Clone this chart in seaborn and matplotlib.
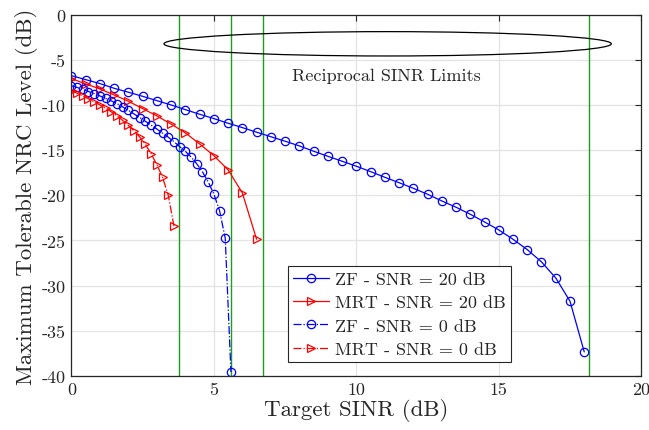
import numpy as np
import pandas as pd
import seaborn as sns
import matplotlib.pyplot as plt
from matplotlib.patches import Ellipse

# === Dados ===
snr_zf_20 = [0, 0.5, 1, 1.5, 2, 2.5, 3, 3.5, 4, 4.5, 5, 5.5, 6, 6.5, 7, 7.5, 8, 8.5, 9,
             9.5, 10, 10.5, 11, 11.5, 12, 12.5, 13, 13.5, 14, 14.5, 15, 15.5, 16, 16.5,
             17, 17.5, 18]
nrc_zf_20 = [-6.73, -7.17, -7.61, -8.13, -8.57, -9.02, -9.5, -9.98, -10.5, -11.01, -11.49,
             -12.01, -12.49, -13.0, -13.5, -14.0, -14.52, -15.11, -15.67, -16.22, -16.77,
             -17.37, -18.0, -18.6, -19.22, -19.88, -20.62, -21.32, -22.1, -22.95, -23.84,
             -24.87, -26.02, -27.38, -29.16, -31.74, -37.36]

snr_mrt_20 = [0, 0.5, 1, 1.5, 2, 2.5, 3, 3.5, 4, 4.5, 5, 5.5, 6, 6.5]
nrc_mrt_20 = [-7.05, -7.65, -8.2, -8.87, -9.57, -10.38, -11.2, -12.1, -13.08, -14.3,
              -15.6, -17.18, -19.73, -24.87]

snr_zf_0 = [0, 0.2, 0.4, 0.6, 0.8, 1.0, 1.2, 1.4, 1.6, 1.8, 2.0, 2.2, 2.4, 2.6, 2.8,
            3.0, 3.2, 3.4, 3.6, 3.8, 4.0, 4.2, 4.4, 4.6, 4.8, 5.0, 5.2, 5.4, 5.6]
nrc_zf_0 = [-7.84, -8.04, -8.26, -8.49, -8.73, -8.98, -9.25, -9.53, -9.83, -10.2, -10.58,
            -10.98, -11.38, -11.8, -12.22, -12.65, -13.1, -13.55, -14.05, -14.6, -15.12,
            -15.75, -16.5, -17.4, -18.5, -19.85, -21.7, -24.75, -39.6]

snr_mrt_0 = [0, 0.2, 0.4, 0.6, 0.8, 1.0, 1.2, 1.4, 1.6, 1.8, 2.0, 2.2, 2.4, 2.6, 2.8,
             3.0, 3.2, 3.4, 3.6]
nrc_mrt_0 = [-8.4, -8.68, -8.98, -9.3, -9.63, -9.98, -10.35, -10.75, -11.18, -11.7,
             -12.25, -12.85, -13.55, -14.35, -15.4, -16.6, -18.0, -20.0, -23.4]

limites = [3.77, 5.61, 6.74, 18.17]

series = [
    ('ZF - SNR = 20 dB', snr_zf_20, nrc_zf_20, 'blue', 'o', '-'),
    ('MRT - SNR = 20 dB', snr_mrt_20, nrc_mrt_20, 'red', '>', '-'),
    ('ZF - SNR = 0 dB', snr_zf_0, nrc_zf_0, 'blue', 'o', '-.'),
    ('MRT - SNR = 0 dB', snr_mrt_0, nrc_mrt_0, 'red', '>', '-.'),
]

# === Estilo ===
sns.set_theme(style='whitegrid')
plt.rcParams['font.family'] = 'serif'
plt.rcParams['font.serif'] = ['cmr10', 'DejaVu Serif']
plt.rcParams['mathtext.fontset'] = 'cm'
plt.rcParams['axes.unicode_minus'] = False
plt.rcParams['axes.formatter.use_mathtext'] = False

fig = plt.figure(figsize=(6.49, 4.31), dpi=100)
ax = fig.add_axes([0.110, 0.126, 0.878, 0.837])

for nome, x, y, cor, mk, ls in series:
    df = pd.DataFrame({'x': x, 'y': y})
    sns.lineplot(data=df, x='x', y='y', ax=ax, color=cor, linestyle=ls, lw=0.9,
                 marker=mk, markersize=6, markerfacecolor='none', markeredgecolor=cor,
                 markeredgewidth=0.9, label=nome, sort=False)

for xv in limites:
    ax.axvline(xv, color='#1c9e1c', lw=1.0, zorder=1)

ax.add_patch(Ellipse((11.1, -3.2), 15.7, 2.7, fill=False, edgecolor='black', lw=0.9))
ax.text(11.05, -6.75, 'Reciprocal SINR Limits', ha='center', va='center', fontsize=13)

ax.set_xlim(0, 20)
ax.set_ylim(-40, 0)
ax.set_xticks([0, 5, 10, 15, 20])
ax.set_yticks(np.arange(-40, 1, 5))
ax.grid(True, color='#e3e3e3', lw=0.9)
ax.tick_params(direction='in', length=4, width=0.8, top=True, right=True,
               labelsize=13, colors='#262626', pad=4)
for s in ax.spines.values():
    s.set_color('#262626')
    s.set_linewidth(0.9)

ax.set_xlabel('Target SINR (dB)', fontsize=16.5, labelpad=1)
ax.set_ylabel('Maximum Tolerable NRC Level (dB)', fontsize=16.5, labelpad=3)

leg = ax.legend(loc='lower left', bbox_to_anchor=(0.38, 0.037), fontsize=13,
                frameon=True, fancybox=False, framealpha=1, edgecolor='#262626',
                handlelength=2.0, handletextpad=0.3, borderpad=0.3, labelspacing=0.42,
                borderaxespad=0)
leg.get_frame().set_linewidth(0.8)

plt.savefig('out.png', dpi=100)
